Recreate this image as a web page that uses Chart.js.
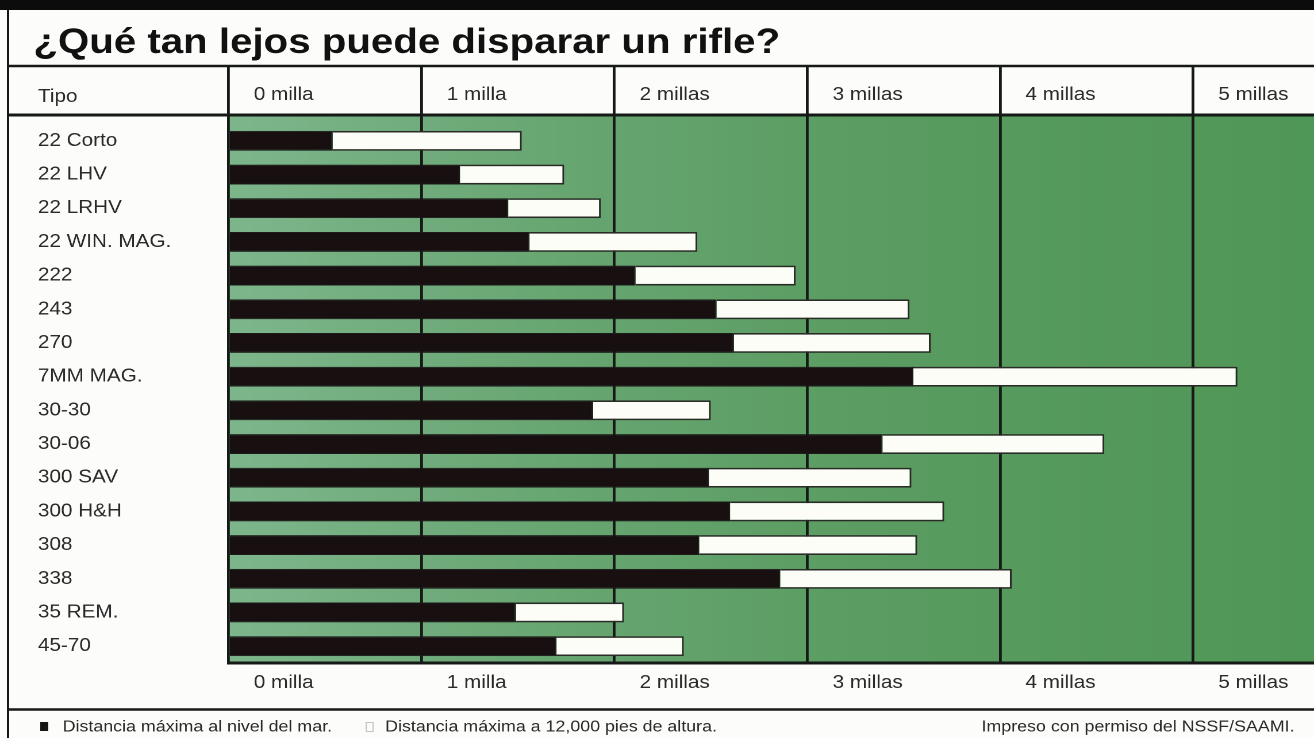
<!DOCTYPE html>
<html>
<head>
<meta charset="utf-8">
<script src="https://cdn.jsdelivr.net/npm/chart.js@4"></script>
<style>
  html, body { margin: 0; padding: 0; background: #fcfcfa; overflow: hidden; }
  #wrap { position: absolute; left: 0; top: 0; width: 1143px; height: 738px;
          transform: scaleX(1.14961); transform-origin: 0 0; }
</style>
</head>
<body>
<div id="wrap"><canvas id="c"></canvas></div>
<script>
// ---- data ----
const titleText = '¿Qué tan lejos puede disparar un rifle?';
const headerLabel = 'Tipo';
const creditText = 'Impreso con permiso del NSSF/SAAMI.';
const types = ['22 Corto', '22 LHV', '22 LRHV', '22 WIN. MAG.', '222', '243', '270', '7MM MAG.',
               '30-30', '30-06', '300 SAV', '300 H&H', '308', '338', '35 REM.', '45-70'];
// miles, maximum distance at sea level
const seaLevel = [0.54, 1.20, 1.45, 1.56, 2.11, 2.53, 2.62, 3.55, 1.89, 3.39, 2.49, 2.60, 2.44, 2.86, 1.49, 1.70];
// miles, maximum distance at 12,000 ft altitude
const altitude12k = [1.52, 1.74, 1.93, 2.43, 2.94, 3.53, 3.64, 5.23, 2.50, 4.54, 3.54, 3.71, 3.57, 4.06, 2.05, 2.36];
const tickLabels = ['0 milla', '1 milla', '2 millas', '3 millas', '4 millas', '5 millas'];
const seriesLabels = ['Distancia máxima al nivel del mar.', 'Distancia máxima a 12,000 pies de altura.'];

const FONT = "'Liberation Sans', Arial, Helvetica, sans-serif";
const TEXT = '#2a2a2a';
const LINE = '#161a16';

Chart.defaults.font.family = FONT;

const keepIntegerTicks = (scale) => {
  scale.ticks = scale.ticks.filter(t => Number.isInteger(t.value) && t.value < tickLabels.length);
};

const deco = {
  id: 'deco',
  beforeDraw(chart) {
    const { ctx, chartArea: a, width, height } = chart;
    ctx.save();
    ctx.fillStyle = '#fcfcfa';
    ctx.fillRect(0, 0, width, height);
    const g = ctx.createLinearGradient(a.left, 0, a.right, 0);
    g.addColorStop(0, '#7db68b');
    g.addColorStop(0.3, '#68a672');
    g.addColorStop(0.6, '#5a9c61');
    g.addColorStop(1, '#4f9757');
    ctx.fillStyle = g;
    ctx.fillRect(a.left, 116.5, a.right - a.left, a.bottom - 116.5);
    ctx.restore();
  },
  afterDraw(chart) {
    const { ctx, width } = chart;
    ctx.save();
    // top black band
    ctx.fillStyle = '#0c0c0c';
    ctx.fillRect(0, 0, width, 10);
    // frame lines
    ctx.strokeStyle = LINE;
    ctx.lineWidth = 2;
    ctx.beginPath(); ctx.moveTo(7, 10); ctx.lineTo(7, 738); ctx.stroke();
    ctx.lineWidth = 2.5;
    ctx.beginPath(); ctx.moveTo(7, 66); ctx.lineTo(width, 66); ctx.stroke();
    ctx.lineWidth = 3;
    ctx.beginPath(); ctx.moveTo(7, 115); ctx.lineTo(width, 115); ctx.stroke();
    ctx.lineWidth = 2.5;
    ctx.beginPath(); ctx.moveTo(7, 709.5); ctx.lineTo(width, 709.5); ctx.stroke();

    // title
    ctx.fillStyle = '#111';
    ctx.font = 'bold 35px ' + FONT;
    ctx.textBaseline = 'alphabetic';
    ctx.textAlign = 'left';
    ctx.fillText(titleText, 29, 53);

    // header label
    ctx.fillStyle = TEXT;
    ctx.font = '18px ' + FONT;
    ctx.textBaseline = 'middle';
    ctx.fillText(headerLabel, 33, 97);

    // legend
    const ly = 727;
    ctx.font = '15.5px ' + FONT;
    ctx.fillStyle = '#151515';
    ctx.fillRect(35, ly - 5, 7, 9);
    ctx.fillStyle = TEXT;
    ctx.fillText(chart.data.datasets[0].label, 54.5, ly);
    ctx.strokeStyle = '#c4c4c4';
    ctx.lineWidth = 1;
    ctx.strokeRect(318.5, ly - 4.5, 6, 9);
    ctx.fillText(chart.data.datasets[1].label, 335, ly);
    ctx.textAlign = 'right';
    ctx.fillText(creditText, 1126, ly);
    ctx.restore();
  }
};

new Chart(document.getElementById('c'), {
  type: 'bar',
  data: {
    labels: types,
    datasets: [
      {
        label: seriesLabels[0],
        data: seaLevel,
        backgroundColor: '#170f10',
        borderColor: '#1c1a1a',
        borderWidth: 1,
        grouped: false,
        barPercentage: 0.59,
        categoryPercentage: 1,
        xAxisID: 'x'
      },
      {
        label: seriesLabels[1],
        data: altitude12k.map((v, i) => [seaLevel[i], v]),
        backgroundColor: '#fdfdf8',
        borderColor: '#2a2a26',
        borderWidth: 1.6,
        borderSkipped: 'start',
        grouped: false,
        barPercentage: 0.59,
        categoryPercentage: 1,
        xAxisID: 'x'
      }
    ]
  },
  options: {
    indexAxis: 'y',
    responsive: true,
    maintainAspectRatio: false,
    animation: false,
    devicePixelRatio: 2,
    layout: { padding: { left: 33, right: 0, top: 0, bottom: 0 } },
    plugins: {
      legend: { display: false },
      title: { display: false },
      tooltip: { enabled: false }
    },
    scales: {
      y: {
        type: 'category',
        position: 'left',
        afterFit: (s) => { s.width = 198.8 - 33; },
        grid: { display: false },
        border: { display: false },
        ticks: { crossAlign: 'far', color: TEXT, font: { size: 18 }, padding: 0 }
      },
      x: {
        type: 'linear',
        position: 'bottom',
        min: 0,
        max: 5.627,
        afterFit: (s) => { s.height = 75; },
        afterBuildTicks: keepIntegerTicks,
        grid: { color: LINE, lineWidth: 2.4, drawTicks: false },
        border: { display: true, color: LINE, width: 3 },
        ticks: {
          stepSize: 1, autoSkip: false, maxRotation: 0,
          align: 'start', labelOffset: 22, padding: 9,
          color: TEXT, font: { size: 18 },
          callback: (v) => tickLabels[v] ?? ''
        }
      },
      xTop: {
        type: 'linear',
        position: 'top',
        min: 0,
        max: 5.627,
        afterFit: (s) => { s.height = 124; },
        afterBuildTicks: keepIntegerTicks,
        grid: { color: LINE, lineWidth: 2.4, drawOnChartArea: false, drawTicks: true, tickLength: 58 },
        border: { display: false },
        ticks: {
          stepSize: 1, autoSkip: false, maxRotation: 0,
          align: 'start', labelOffset: 22, padding: -40,
          color: TEXT, font: { size: 18 },
          callback: (v) => tickLabels[v] ?? ''
        }
      }
    }
  },
  plugins: [deco]
});
</script>
</body>
</html>
